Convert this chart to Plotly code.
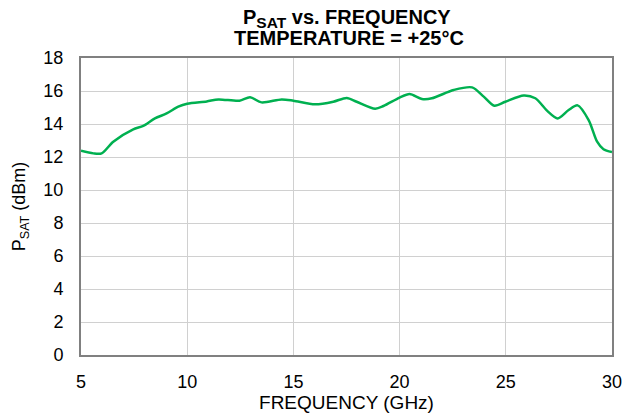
import plotly.graph_objects as go

freq_ghz = [5.0, 5.58, 5.97, 6.52, 7.46, 7.93, 8.48, 9.03, 9.58, 10.0, 10.92, 11.47,
            12.46, 12.96, 13.5, 14.45, 15.0, 16.02, 16.88, 17.51, 17.98, 18.85, 19.24,
            20.0, 20.47, 21.05, 21.52, 22.54, 23.41, 23.96, 24.46, 24.98, 25.84, 26.39,
            26.94, 27.44, 27.96, 28.38, 28.9, 29.3, 29.6, 30.0]
psat_dbm = [12.38, 12.22, 12.22, 12.93, 13.68, 13.88, 14.34, 14.64, 15.05, 15.23, 15.37, 15.49,
            15.41, 15.62, 15.31, 15.49, 15.41, 15.19, 15.35, 15.58, 15.35, 14.93, 15.09,
            15.60, 15.82, 15.52, 15.56, 16.06, 16.22, 15.66, 15.11, 15.35, 15.73, 15.56,
            14.81, 14.34, 14.85, 15.13, 14.24, 12.93, 12.47, 12.30]

x_ticks = [5, 10, 15, 20, 25, 30]
y_ticks = [0, 2, 4, 6, 8, 10, 12, 14, 16, 18]
title_line1 = "<b>P<sub><span style='font-size:15.5px'>SAT</span></sub> vs. FREQUENCY</b>"
title_line2 = "<b>TEMPERATURE = +25°C</b>"

fig = go.Figure()
fig.add_trace(go.Scatter(
    x=freq_ghz, y=psat_dbm, mode="lines",
    line=dict(color="#00B050", width=2.5, shape="spline", smoothing=0.8),
    showlegend=False, hoverinfo="skip"))

font_family = "Liberation Sans, Arial, sans-serif"
fig.update_layout(
    width=623, height=420,
    margin=dict(l=81, r=11, t=58, b=65, autoexpand=False),
    paper_bgcolor="white", plot_bgcolor="white",
    font=dict(family=font_family, size=18, color="black"),
)
fig.add_annotation(text=title_line1, xref="paper", yref="paper", x=0.5, y=1.1337,
                   xanchor="center", yanchor="middle", showarrow=False,
                   font=dict(family=font_family, size=20, color="black"))
fig.add_annotation(text=title_line2, xref="paper", yref="paper", x=0.505, y=1.069,
                   xanchor="center", yanchor="middle", showarrow=False,
                   font=dict(family=font_family, size=20, color="black"))

fig.update_xaxes(
    range=[5, 30], tickvals=x_ticks, ticks="", showgrid=True, automargin=False,
    gridcolor="#d0d0d0", gridwidth=1, zeroline=False,
    showline=True, linecolor="#808080", linewidth=2, mirror=True,
    ticklabelstandoff=9,
    title=dict(text="FREQUENCY (GHz)", font=dict(size=19), standoff=4),
    tickfont=dict(size=18))
fig.update_yaxes(
    range=[0, 18], tickvals=y_ticks, ticks="", showgrid=True, automargin=False,
    gridcolor="#d0d0d0", gridwidth=1, zeroline=False,
    showline=True, linecolor="#808080", linewidth=2, mirror=True,
    ticklabelstandoff=12,
    title=dict(text="P<sub>SAT</sub> (dBm)", font=dict(size=18), standoff=13),
    tickfont=dict(size=18))

fig.write_html("out.html",
               config={"displayModeBar": False},
               post_script="document.body.style.margin='0';"
                           "document.body.style.overflow='hidden';")
